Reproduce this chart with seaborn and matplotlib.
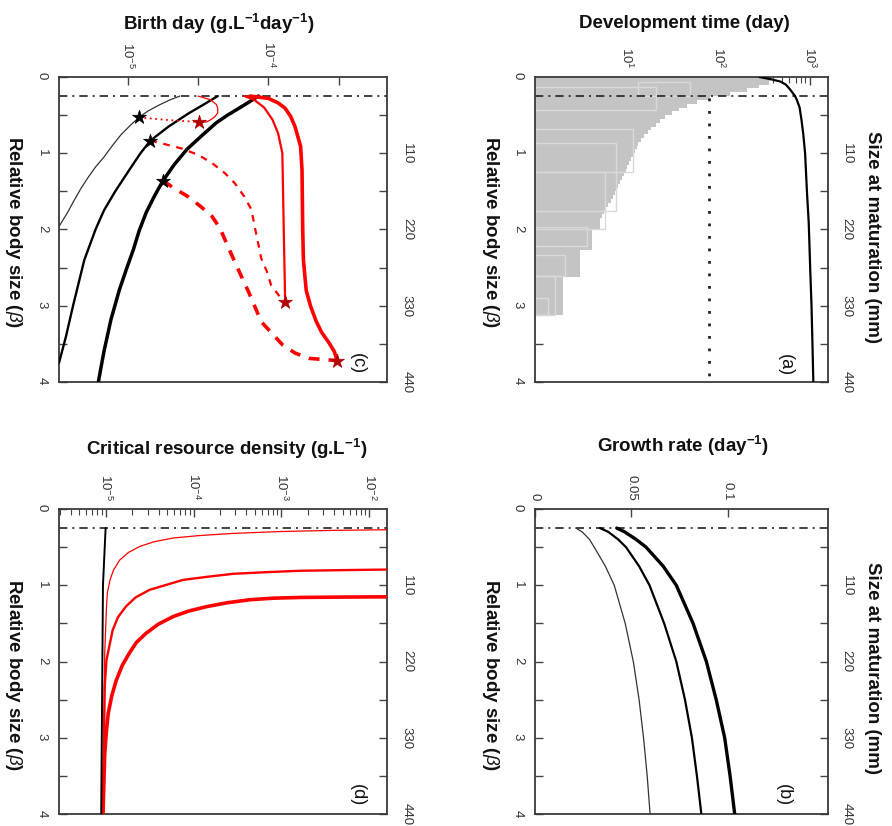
import numpy as np
import pandas as pd
import matplotlib
matplotlib.use("Agg")
import matplotlib.pyplot as plt
import seaborn as sns
from matplotlib.ticker import FixedLocator, FuncFormatter, LogLocator, NullFormatter

# ---------------- data ----------------
beta_min = 0.25                     # smallest relative body size (dash-dot line)
size_per_beta = 110                 # mm of size at maturation per unit beta

# (a) development time (day)
dev_beta = [0.0, 0.03, 0.06, 0.1, 0.17, 0.25, 0.3, 0.4, 0.56, 0.75, 1.0, 1.5, 1.92, 2.5, 3.0, 3.5, 4.0]
dev_days = [282, 380, 479, 550, 617, 692, 724, 776, 813, 851, 891, 933, 977, 1012, 1047, 1072, 1096]
obs_beta = [0.0, 0.05, 0.10, 0.15, 0.20, 0.25, 0.30, 0.35, 0.40, 0.45, 0.50, 0.55, 0.60, 0.65,
            0.70, 0.75, 0.80, 0.85, 0.90, 0.95, 1.00, 1.05, 1.10, 1.15, 1.20, 1.25, 1.30, 1.35,
            1.40, 1.45, 1.50, 1.55, 1.60, 1.65, 1.70, 1.75, 1.80, 1.85, 1.90, 1.95, 2.00, 2.27,
            2.62, 3.12]
obs_days = [380, 355, 282, 209, 135, 81, 59, 46, 37, 31, 26, 23.4, 20.9, 18.6,
            17.0, 15.5, 14.5, 13.5, 12.9, 12.3, 11.7, 11.2, 10.7, 10.2, 9.8, 9.3, 8.9, 8.5,
            8.1, 7.8, 7.4, 7.1, 6.8, 6.3, 6.0, 5.6, 5.4, 5.1, 5.1, 5.1, 4.2, 3.1,
            2.0, 1.0]
box_beta_top = [0.06, 0.13, 0.68, 0.86, 1.24, 1.97, 2.33, 2.61, 2.90]
box_beta_bot = [0.25, 0.43, 1.24, 1.76, 2.00, 2.21, 2.61, 3.12, 3.12]
box_day_lo = [13.5, 1, 1, 1, 1, 1, 1, 1, 1]
box_day_hi = [49, 21, 11.7, 7.7, 5.8, 3.7, 2.15, 1.66, 1.4]
dev_threshold_beta = [0.27, 4.0]
dev_threshold_days = [80, 80]

# (b) growth rate (day^-1)
gr_beta = [0.25, 0.3, 0.4, 0.5, 0.75, 1.0, 1.5, 2.0, 2.5, 3.0, 3.5, 4.0]
gr_thin = [0.0212, 0.0245, 0.0283, 0.0307, 0.0365, 0.0411, 0.0468, 0.0510, 0.0540, 0.0563, 0.0582, 0.0597]
gr_mid = [0.0337, 0.0380, 0.0432, 0.0472, 0.0540, 0.0594, 0.0670, 0.0733, 0.0778, 0.0814, 0.0840, 0.0863]
gr_thick = [0.0424, 0.0465, 0.0525, 0.0576, 0.0665, 0.0733, 0.0820, 0.0889, 0.0940, 0.0984, 0.1012, 0.1036]

# (c) birth rate, log10 (g.L-1 day-1)
bk_thin_beta = [0.25, 0.30, 0.37, 0.45, 0.53, 0.63, 0.76, 0.90, 1.05, 1.18, 1.31, 1.45, 1.61, 1.78, 1.96]
bk_thin_log = [-4.63, -4.70, -4.78, -4.86, -4.92, -4.98, -5.05, -5.11, -5.17, -5.23, -5.28, -5.33, -5.38, -5.43, -5.49]
bk_mid_beta = [0.25, 0.35, 0.48, 0.65, 0.835, 1.0, 1.22, 1.5, 1.75, 2.0, 2.4, 3.0, 3.4, 3.75]
bk_mid_log = [-4.36, -4.45, -4.57, -4.71, -4.84, -4.91, -4.99, -5.09, -5.17, -5.23, -5.31, -5.39, -5.44, -5.49]
bk_thick_beta = [0.25, 0.32, 0.40, 0.50, 0.60, 0.78, 0.95, 1.15, 1.36, 1.56, 1.78, 2.02, 2.26, 2.52, 2.79, 3.18, 3.6, 4.0]
bk_thick_log = [-4.07, -4.13, -4.20, -4.29, -4.37, -4.48, -4.58, -4.67, -4.75, -4.81, -4.87, -4.92, -4.96, -5.01, -5.06, -5.12, -5.17, -5.21]
rd_loop_beta = [0.25, 0.30, 0.36, 0.41, 0.47, 0.52, 0.56, 0.59, 0.59]
rd_loop_log = [-4.50, -4.41, -4.37, -4.36, -4.36, -4.38, -4.41, -4.44, -4.495]
rd_dot_beta = [0.53, 0.565, 0.59]
rd_dot_log = [-4.92, -4.71, -4.495]
rd_mid_beta = [0.25, 0.30, 0.40, 0.56, 0.74, 1.0, 2.0, 2.95]
rd_mid_log = [-4.17, -4.10, -4.03, -3.97, -3.93, -3.90, -3.89, -3.88]
rd_mid_dash_beta = [0.835, 0.879, 0.936, 1.02, 1.13, 1.26, 1.39, 1.57, 1.74, 1.98, 2.20, 2.38, 2.55, 2.73, 2.95]
rd_mid_dash_log = [-4.84, -4.74, -4.62, -4.50, -4.40, -4.31, -4.24, -4.17, -4.12, -4.095, -4.07, -4.05, -4.01, -3.98, -3.89]
rd_thick_beta = [0.25, 0.28, 0.34, 0.41, 0.52, 0.65, 0.91, 1.22, 2.0, 2.4, 2.8, 3.0, 3.2, 3.35, 3.48, 3.6, 3.72]
rd_thick_log = [-4.13, -4.00, -3.93, -3.88, -3.84, -3.81, -3.77, -3.76, -3.755, -3.75, -3.73, -3.70, -3.66, -3.62, -3.57, -3.53, -3.51]
rd_thick_dash_beta = [1.36, 1.46, 1.57, 1.70, 1.83, 1.98, 2.42, 2.82, 3.21, 3.51, 3.62, 3.69, 3.72]
rd_thick_dash_log = [-4.75, -4.67, -4.57, -4.48, -4.40, -4.345, -4.24, -4.14, -4.05, -3.90, -3.81, -3.71, -3.51]
star_bk_beta = [0.53, 0.835, 1.36]
star_bk_log = [-4.92, -4.84, -4.75]
star_rd_beta = [0.59, 2.95, 3.72]
star_rd_log = [-4.495, -3.88, -3.51]

# (d) critical resource density, log10 (g.L-1)
cr_bk_beta = [0.25, 1.0, 4.0]
cr_bk_log = [-5.00, -5.03, -5.05]
cr_thin_beta = [0.268, 0.272, 0.28, 0.295, 0.32, 0.35, 0.38, 0.43, 0.49, 0.57, 0.67, 0.8, 0.93, 1.1, 1.28, 1.89, 4.0]
cr_thin_log = [-1.5, -1.8, -2.4, -3.0, -3.55, -3.95, -4.23, -4.45, -4.61, -4.74, -4.84, -4.91, -4.95, -4.98, -4.99, -5.01, -5.03]
cr_mid_beta = [0.79, 0.80, 0.81, 0.83, 0.85, 0.89, 0.93, 1.06, 1.16, 1.28, 1.42, 1.59, 1.98, 2.33, 4.0]
cr_mid_log = [-1.5, -2.2, -2.79, -3.2, -3.55, -3.85, -4.12, -4.50, -4.66, -4.77, -4.86, -4.92, -4.99, -5.01, -5.03]
cr_thick_beta = [1.15, 1.155, 1.16, 1.17, 1.19, 1.23, 1.28, 1.34, 1.41, 1.51, 1.63, 1.75, 1.89, 2.05, 2.25, 2.45, 2.68, 2.9, 3.21, 4.0]
cr_thick_log = [-1.5, -2.3, -2.79, -3.1, -3.36, -3.62, -3.85, -4.06, -4.23, -4.40, -4.54, -4.65, -4.73, -4.81, -4.88, -4.93, -4.97, -4.99, -5.01, -5.03]

# ---------------- style ----------------
sns.set_theme(style="ticks")
plt.rcParams['font.family'] = ['Liberation Sans', 'DejaVu Sans']
plt.rcParams['mathtext.fontset'] = 'custom'
plt.rcParams['mathtext.rm'] = 'Liberation Sans'
plt.rcParams['mathtext.it'] = 'Liberation Sans:italic'
plt.rcParams['mathtext.bf'] = 'Liberation Sans:bold'
plt.rcParams['mathtext.default'] = 'regular'

W, H = 892, 826
fig = plt.figure(figsize=(W / 100, H / 100), dpi=100)


def box(l, t, r, b):
    return [l / W, 1 - b / H, (r - l) / W, (b - t) / H]


ax_c = fig.add_axes(box(59, 77, 387, 382))
ax_a = fig.add_axes(box(535, 77, 828, 382))
ax_d = fig.add_axes(box(59, 509, 387, 814))
ax_b = fig.add_axes(box(535, 509, 828, 814))

RED = '#ff0000'
DARKRED = '#b00000'
SP = '#3a3a3a'
TICKC = '#444444'
DASHDOT = (0, (5, 3, 1.2, 3))
TLS = 9.5


def line(ax, x, y, color='black', lw=1.5, ls='-', z=3):
    sns.lineplot(x=x, y=y, sort=False, estimator=None, ax=ax, color=color,
                 linewidth=lw, linestyle=ls, legend=False, zorder=z)


def style(ax, label_right_pad=9):
    ax.set_ylim(4, 0)
    ax.set_yticks([0, 1, 2, 3, 4])
    ax.yaxis.set_minor_locator(FixedLocator([0.5, 1.5, 2.5, 3.5]))
    ax.tick_params(axis='y', which='both', direction='in', length=6, width=1,
                   left=True, right=False, labelleft=True, labelrotation=-90,
                   labelsize=TLS, pad=8, colors=TICKC, labelcolor='#333333')
    ax.xaxis.tick_top()
    ax.tick_params(axis='x', which='major', direction='in', length=6, width=1,
                   top=True, bottom=False, labeltop=True, labelbottom=False,
                   labelrotation=-90, labelsize=TLS, pad=6, colors=TICKC, labelcolor='#333333')
    ax.tick_params(axis='x', which='minor', direction='in', length=4, width=0.8,
                   top=True, bottom=False, colors=TICKC)
    for lab in ax.get_xticklabels():
        lab.set_va('bottom')
    for s in ax.spines.values():
        s.set_visible(True)
        s.set_color(SP)
        s.set_linewidth(1.3)
    ax.set_xlabel('')
    ax.set_ylabel('')
    sec = ax.secondary_yaxis('right', functions=(lambda b: b * size_per_beta,
                                                 lambda s: s / size_per_beta))
    sec.set_yticks([110, 220, 330, 440])
    sec.yaxis.set_minor_locator(FixedLocator([55, 165, 275, 385]))
    sec.tick_params(axis='y', which='both', direction='in', length=6, width=1,
                    labelrotation=-90, labelsize=TLS, pad=label_right_pad,
                    colors=TICKC, labelcolor='#333333')
    sec.spines['right'].set_visible(False)
    for lab in sec.get_yticklabels():
        lab.set_ha('left')
        lab.set_va('center')
    ax.axhline(beta_min, color='#222222', lw=1.2, ls=DASHDOT, zorder=2.5)


def logfmt(v, pos):
    e = np.log10(v)
    if abs(e - round(e)) < 1e-6:
        return r'$10^{%d}$' % int(round(e))
    return ''


def letter(ax, x, y, s):
    ax.text(x, y, s, transform=ax.transAxes, rotation=-90, ha='center', va='center',
            fontsize=13, color='#111111')


# ---- (a) development time ----
ax = ax_a
ax.set_xscale('log')
ax.fill_betweenx(obs_beta, 1, obs_days, step='post', color='#c4c4c4', lw=0, zorder=1)
box_h = np.array(box_beta_bot) - np.array(box_beta_top)
box_c = np.array(box_beta_top) + box_h / 2
ax.barh(box_c, np.array(box_day_hi) - np.array(box_day_lo), height=box_h, left=box_day_lo,
        fill=False, edgecolor='#d9d9d9', linewidth=1.0, zorder=1.5)
line(ax, dev_threshold_days, dev_threshold_beta, color='#222222', lw=2.0, ls=(0, (1, 3.5)))
line(ax, dev_days, dev_beta, color='black', lw=1.6)
ax.set_xlim(1, 10 ** 3.2)
ax.xaxis.set_major_locator(FixedLocator([1, 10, 100, 1000]))
ax.xaxis.set_minor_locator(LogLocator(base=10, subs=np.arange(2, 10)))
ax.xaxis.set_major_formatter(FuncFormatter(lambda v, p: logfmt(v, p) if v > 1 else ''))
ax.xaxis.set_minor_formatter(NullFormatter())
style(ax)
letter(ax, 0.853, 0.057, '(a)')

# ---- (b) growth rate ----
ax = ax_b
line(ax, gr_thin, gr_beta, color='#333333', lw=0.9)
line(ax, gr_mid, gr_beta, color='black', lw=1.6)
line(ax, gr_thick, gr_beta, color='black', lw=2.4)
ax.set_xlim(0, 0.152)
ax.set_xticks([0, 0.05, 0.1])
ax.set_xticklabels(['0', '0.05', '0.1'])
style(ax)
letter(ax, 0.846, 0.062, '(b)')

# ---- (c) birth rate ----
ax = ax_c
ax.set_xscale('log')
P = lambda a: 10 ** np.array(a)
line(ax, P(bk_thin_log), bk_thin_beta, color='#333333', lw=0.9)
line(ax, P(bk_mid_log), bk_mid_beta, color='black', lw=1.7)
line(ax, P(bk_thick_log), bk_thick_beta, color='black', lw=2.5)
line(ax, P(rd_loop_log), rd_loop_beta, color=RED, lw=0.9)
line(ax, P(rd_dot_log), rd_dot_beta, color=RED, lw=1.3, ls=(0, (1, 2)))
line(ax, P(rd_mid_log), rd_mid_beta, color=RED, lw=1.6)
line(ax, P(rd_mid_dash_log), rd_mid_dash_beta, color=RED, lw=1.6, ls=(0, (3, 3)))
line(ax, P(rd_thick_log), rd_thick_beta, color=RED, lw=2.6)
line(ax, P(rd_thick_dash_log), rd_thick_dash_beta, color=RED, lw=2.6, ls=(0, (3, 2.5)))
sns.scatterplot(x=P(star_bk_log), y=star_bk_beta, ax=ax, marker='*', s=110, color='black',
                edgecolor='black', linewidth=0.5, zorder=5, legend=False)
sns.scatterplot(x=P(star_rd_log), y=star_rd_beta, ax=ax, marker='*', s=110, color=DARKRED,
                edgecolor=DARKRED, linewidth=0.5, zorder=5, legend=False)
ax.set_xlim(10 ** -5.49, 10 ** -3.155)
ax.xaxis.set_major_locator(FixedLocator(10 ** np.array([-5, -4.5, -4, -3.5])))
ax.xaxis.set_major_formatter(FuncFormatter(logfmt))
ax.xaxis.set_minor_locator(FixedLocator([]))
style(ax, label_right_pad=10)
letter(ax, 0.909, 0.062, '(c)')

# ---- (d) critical resource density ----
ax = ax_d
ax.set_xscale('log')
line(ax, P(cr_bk_log), cr_bk_beta, color='black', lw=1.4, z=3.2)
line(ax, P(cr_thin_log), cr_thin_beta, color=RED, lw=0.9)
line(ax, P(cr_mid_log), cr_mid_beta, color=RED, lw=1.7)
line(ax, P(cr_thick_log), cr_thick_beta, color=RED, lw=2.6)
ax.set_xlim(10 ** -5.53, 10 ** -1.80)
ax.xaxis.set_major_locator(FixedLocator(10.0 ** np.array([-5, -4, -3, -2])))
ax.xaxis.set_minor_locator(LogLocator(base=10, subs=np.arange(2, 10)))
ax.xaxis.set_major_formatter(FuncFormatter(logfmt))
ax.xaxis.set_minor_formatter(NullFormatter())
style(ax, label_right_pad=10)
letter(ax, 0.909, 0.062, '(d)')

# ---------------- labels ----------------
LFS = 13.5


def ftext(x, y, s, rot=0):
    fig.text(x / W, 1 - y / H, s, rotation=rot, ha='center', va='center',
             fontsize=LFS, fontweight='bold', color='#111111')


ftext(219, 24, r'Birth day (g.L$^{\mathbf{-1}}$day$^{\mathbf{-1}}$)')
ftext(684, 24, 'Development time (day)')
ftext(227, 449, r'Critical resource density (g.L$^{\mathbf{-1}}$)')
ftext(683, 446, r'Growth rate (day$^{\mathbf{-1}}$)')
for xx, yy in [(13, 232), (491, 232), (13, 675), (491, 675)]:
    ftext(xx, yy, r'Relative body size ($\mathit{\beta}$)', rot=-90)
for yy in [237, 668]:
    ftext(873, yy, 'Size at maturation (mm)', rot=-90)

fig.savefig('out.png', dpi=100)
